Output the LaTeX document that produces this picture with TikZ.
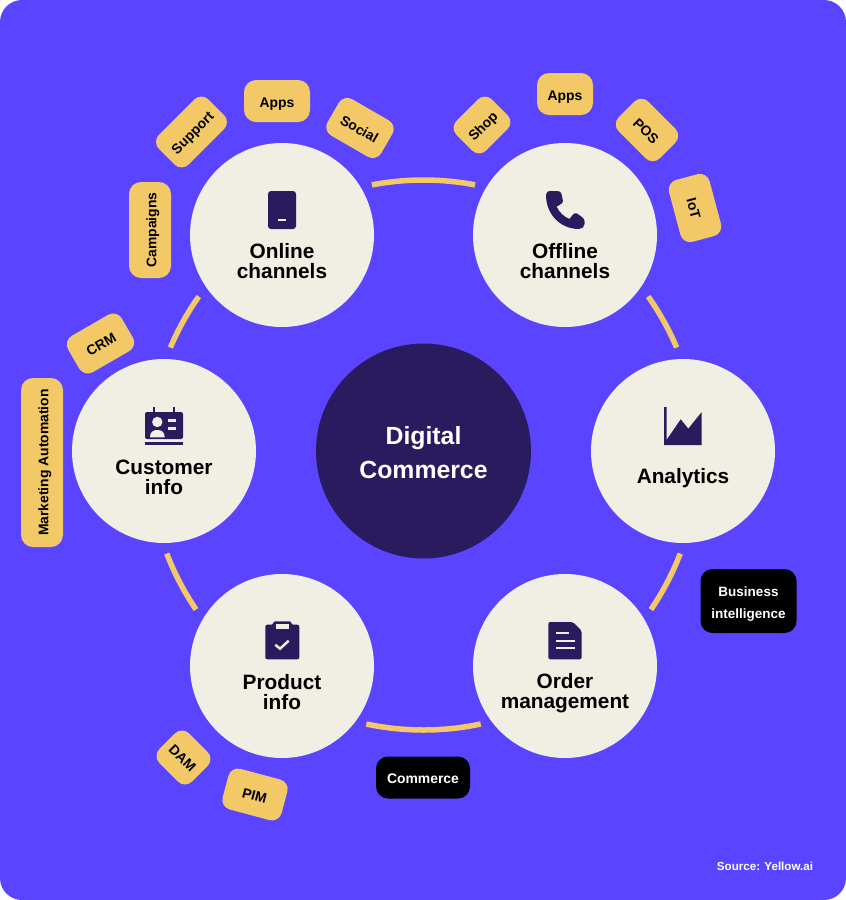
\documentclass[tikz,border=0pt]{standalone}
\usepackage{fontspec}
\setmainfont{Liberation Sans}
\usepackage{tikz}
\usetikzlibrary{positioning}
\definecolor{bgviolet}{HTML}{5B44FF}
\definecolor{hubdark}{HTML}{2A1A5E}
\definecolor{hubcream}{HTML}{F1EEE4}
\definecolor{chipyellow}{HTML}{F2C966}

\begin{document}
\begin{tikzpicture}[
		x=1pt, y=-1pt,
		hub/.style={circle, fill=hubcream, minimum size=184pt, inner sep=0pt},
		hub label/.style={align=center, text=black, inner sep=0pt, font=\bfseries\fontsize{20.8}{20}\selectfont},
		chip/.style={rectangle, rounded corners=12pt, fill=chipyellow, text=black, minimum height=42pt, inner sep=0pt, text height=12.5pt, text depth=0pt, align=center, font=\bfseries\fontsize{13.9}{15}\selectfont},
		tilted chip/.style={chip, rounded corners=10pt},
		dark chip/.style={chip, fill=black, text=white},
		ring arc/.style={draw=chipyellow, line width=5.5pt},
		icon/.style={fill=hubdark, draw=none},
		icon mark/.style={draw=hubcream, line width=3pt}
	]
	\useasboundingbox (0,0) rectangle (846,900);
	\fill[bgviolet, rounded corners=22pt] (0,0) rectangle (846,900);

	\coordinate (ringcentre) at (423.5,455);
	\foreach \arcfrom/\arcto in {100.8/79.2, 35.2/23, -21/-34.2, -78/-102, 214.2/201, 157/144.8}
		\draw[ring arc] (ringcentre) ++(\arcfrom:275pt) arc[start angle=\arcfrom, end angle=\arcto, radius=275pt];

	\node[hub] (online) at (282,235) {};
	\node[hub] (offline) at (565,235) {};
	\node[hub] (analytics) at (683,451) {};
	\node[hub] (order) at (565,666) {};
	\node[hub] (product) at (282,666) {};
	\node[hub] (customer) at (164,451) {};
	\node[hub, fill=hubdark, minimum size=215pt] (digital) at (423.5,451) {};

	\node[hub label, text=white, font=\bfseries\fontsize{24.8}{34}\selectfont] (digitaltext) at (423.5,453) {Digital \\ Commerce};
	\node[hub label] (onlinetext) at (282,261) {Online \\ channels};
	\node[hub label] (offlinetext) at (565,261) {Offline \\ channels};
	\node[hub label] (analyticstext) at (683,478.5) {Analytics};
	\node[hub label] (ordertext) at (565,693.5) {Order \\ management};
	\node[hub label] (producttext) at (282,692) {Product \\ info};
	\node[hub label] (customertext) at (164,477) {Customer \\ info};

	\node[tilted chip, minimum width=70pt, rotate=45] (support) at (191.5,132) {Support};
	\node[chip, minimum width=66pt] (appsonline) at (277,101) {Apps};
	\node[tilted chip, minimum width=62pt, rotate=-30] (social) at (360,128) {Social};
	\node[chip, minimum width=96pt, rotate=90] (campaigns) at (150,230) {Campaigns};
	\node[tilted chip, minimum width=62pt, rotate=30] (crm) at (100.5,343.5) {CRM};
	\node[chip, minimum width=169pt, rotate=90] (marketing) at (42,462.5) {Marketing Automation};
	\node[tilted chip, minimum width=50pt, rotate=45] (shop) at (482,125) {Shop};
	\node[chip, minimum width=56pt] (appsoffline) at (565,94) {Apps};
	\node[tilted chip, minimum width=58pt, rotate=-45] (pos) at (647,130) {POS};
	\node[tilted chip, minimum width=64pt, rotate=-75] (iot) at (695,208) {IoT};
	\node[tilted chip, minimum width=46pt, rotate=-45] (dam) at (183.5,757.5) {DAM};
	\node[tilted chip, minimum width=61pt, rotate=-15] (pim) at (255,794.5) {PIM};
	\node[dark chip, minimum width=96pt, minimum height=64pt] (business) at (748.5,601) {};
	\node[hub label, text=white, font=\bfseries\fontsize{13.5}{22}\selectfont] (businesstext) at (748.5,604) {Business \\ intelligence};
	\node[dark chip, minimum width=94pt] (commerce) at (423,777.5) {Commerce};
	\node[text=white, inner sep=0pt, font=\bfseries\fontsize{11.6}{14}\selectfont] (source) at (765,866) {Source: Yellow.ai};

	\fill[icon, rounded corners=3pt] (268,191) rectangle (296,229);
	\draw[icon mark, line width=2.4pt] (278,220) -- (286,220);

	\fill[icon] (546,195) .. controls (546,192) and (548,191) .. (550,191) -- (557,191) .. controls (560,191) and (561,192) .. (561.5,194) -- (563,201) .. controls (563,203) and (560,205) .. (556.5,206.5) .. controls (559,212) and (564,217) .. (569.5,219) -- (573,214.5) .. controls (574,213) and (576,213) .. (577,213.5) -- (582,217) .. controls (584,218) and (584.5,220) .. (584.5,221.5) -- (584.5,224) .. controls (584.5,227) and (582,229) .. (579,229) .. controls (560,229) and (546,214) .. (546,195);

	\fill[icon, rounded corners=2pt] (145,412) rectangle (183,439);
	\fill[icon] (152.5,407) rectangle (154.5,412);
	\fill[icon] (173,407) rectangle (175,412);
	\fill[icon] (145,442.3) rectangle (183,445);
	\fill[hubcream] (157.3,422) circle[radius=5.2pt];
	\fill[hubcream] (150,437.3) .. controls (150,432) and (153,430) .. (157.3,430) .. controls (161.5,430) and (164.7,432) .. (164.7,437.3) -- cycle;
	\draw[icon mark] (168,420) -- (175.7,420);
	\draw[icon mark] (168,428) -- (175.7,428);

	\fill[icon] (664,407) -- (666.5,407) -- (666.5,440) -- (680.7,419.3) -- (688.3,428.7) -- (701.7,412) -- (701.7,445) -- (664,445) -- cycle;

	\fill[icon, rounded corners=2pt] (265.3,624.7) -- (273.3,624.7) -- (273.3,621.3) -- (291.3,621.3) -- (291.3,624.7) -- (299.3,624.7) -- (299.3,659.3) -- (265.3,659.3) -- cycle;
	\fill[hubcream] (276,624) rectangle (288.7,628.7);
	\draw[icon mark, line width=2.5pt] (275.3,644.7) -- (280,648.7) -- (288.7,640.7);

	\fill[icon, rounded corners=2pt] (548.3,622) -- (573,622) -- (581.7,630.7) -- (581.7,659.3) -- (548.3,659.3) -- cycle;
	\draw[icon mark, line width=2pt] (556,633.3) -- (568.7,633.3);
	\draw[icon mark, line width=2pt] (556,641) -- (574.5,641);
	\draw[icon mark, line width=2pt] (556,648.3) -- (574.5,648.3);
\end{tikzpicture}
\end{document}
